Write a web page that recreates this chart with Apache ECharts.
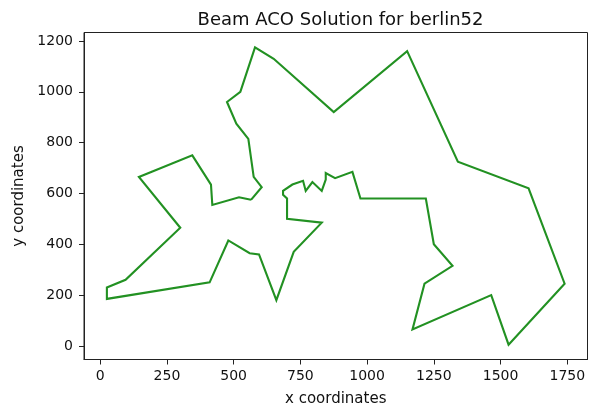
<!DOCTYPE html>
<html>
<head>
<meta charset="utf-8">
<script src="https://cdn.jsdelivr.net/npm/echarts@6/dist/echarts.min.js"></script>
<style>
html,body{margin:0;padding:0;background:#fff;}
#chart{width:590px;height:408px;}
</style>
</head>
<body>
<div id="chart"></div>
<script>
// berlin52 city coordinates (city i+1)
var cityX = [565,25,345,945,845,880,25,525,580,650,1605,1220,1465,1530,845,725,145,415,510,560,300,520,480,835,975,1215,1320,1250,660,410,420,575,1150,700,685,685,770,795,720,760,475,95,875,700,555,830,1170,830,605,595,1340,1740];
var cityY = [575,185,750,685,655,660,230,1000,1175,1130,620,580,200,5,680,370,665,635,875,365,465,585,415,625,580,245,315,400,180,250,555,665,1160,580,595,610,610,645,635,650,960,260,920,500,815,485,65,610,625,360,725,245];
// tour order (1-based city ids)
var tour = [1,49,32,45,19,41,8,9,10,43,33,51,11,52,14,13,47,26,27,28,12,25,4,6,15,5,24,48,38,37,40,39,36,35,34,44,46,16,29,50,20,23,30,2,7,42,21,17,3,18,31,22,1];
var xTicks = [0,250,500,750,1000,1250,1500,1750];
var yTicks = [0,200,400,600,800,1000,1200];
var titleText = 'Beam ACO Solution for berlin52';
var xLabel = 'x coordinates';
var yLabel = 'y coordinates';

var data = tour.map(function(c){ return [cityX[c-1], cityY[c-1]]; });

var FONT = 'DejaVu Sans';
var fmt = function(v){ return String(v); };
var chart = echarts.init(document.getElementById('chart'), null, {renderer:'canvas'});
chart.setOption({
  animation: false,
  backgroundColor: '#fff',
  title: {
    text: titleText,
    left: 335.5, top: 6,
    textAlign: 'center',
    textStyle: {fontFamily: FONT, fontSize: 18, fontWeight: 'normal', color: '#111', lineHeight: 18}
  },
  grid: {
    left: 84, right: 2.5, top: 32.5, bottom: 48.5,
    containLabel: false, outerBoundsMode: 'none',
    show: true, borderColor: '#222', borderWidth: 1, backgroundColor: 'transparent'
  },
  xAxis: {
    type: 'value', min: -60.75, max: 1825.75,
    name: xLabel, nameLocation: 'middle', nameGap: 32,
    nameTextStyle: {fontFamily: FONT, fontSize: 15, color: '#111'},
    axisLine: {show: true, onZero: false, lineStyle: {color: '#222', width: 1}},
    axisTick: {show: true, inside: false, length: 5, lineStyle: {color: '#222', width: 1}, customValues: xTicks},
    axisLabel: {show: true, margin: 10, fontFamily: FONT, fontSize: 14, color: '#111', formatter: fmt, customValues: xTicks},
    splitLine: {show: false}
  },
  yAxis: {
    type: 'value', min: -53.5, max: 1233.5,
    name: yLabel, nameLocation: 'middle', nameGap: 57, nameRotate: 90,
    nameTextStyle: {fontFamily: FONT, fontSize: 15, color: '#111'},
    axisLine: {show: true, onZero: false, lineStyle: {color: '#222', width: 1}},
    axisTick: {show: true, inside: false, length: 5, lineStyle: {color: '#222', width: 1}, customValues: yTicks},
    axisLabel: {show: true, margin: 11, fontFamily: FONT, fontSize: 14, color: '#111', formatter: fmt, customValues: yTicks},
    splitLine: {show: false}
  },
  series: [{
    type: 'line',
    data: data,
    showSymbol: false,
    symbol: 'none',
    smooth: false,
    clip: false,
    lineStyle: {color: '#229122', width: 2.1, join: 'miter'},
    itemStyle: {color: '#229122'}
  }]
});
</script>
</body>
</html>
